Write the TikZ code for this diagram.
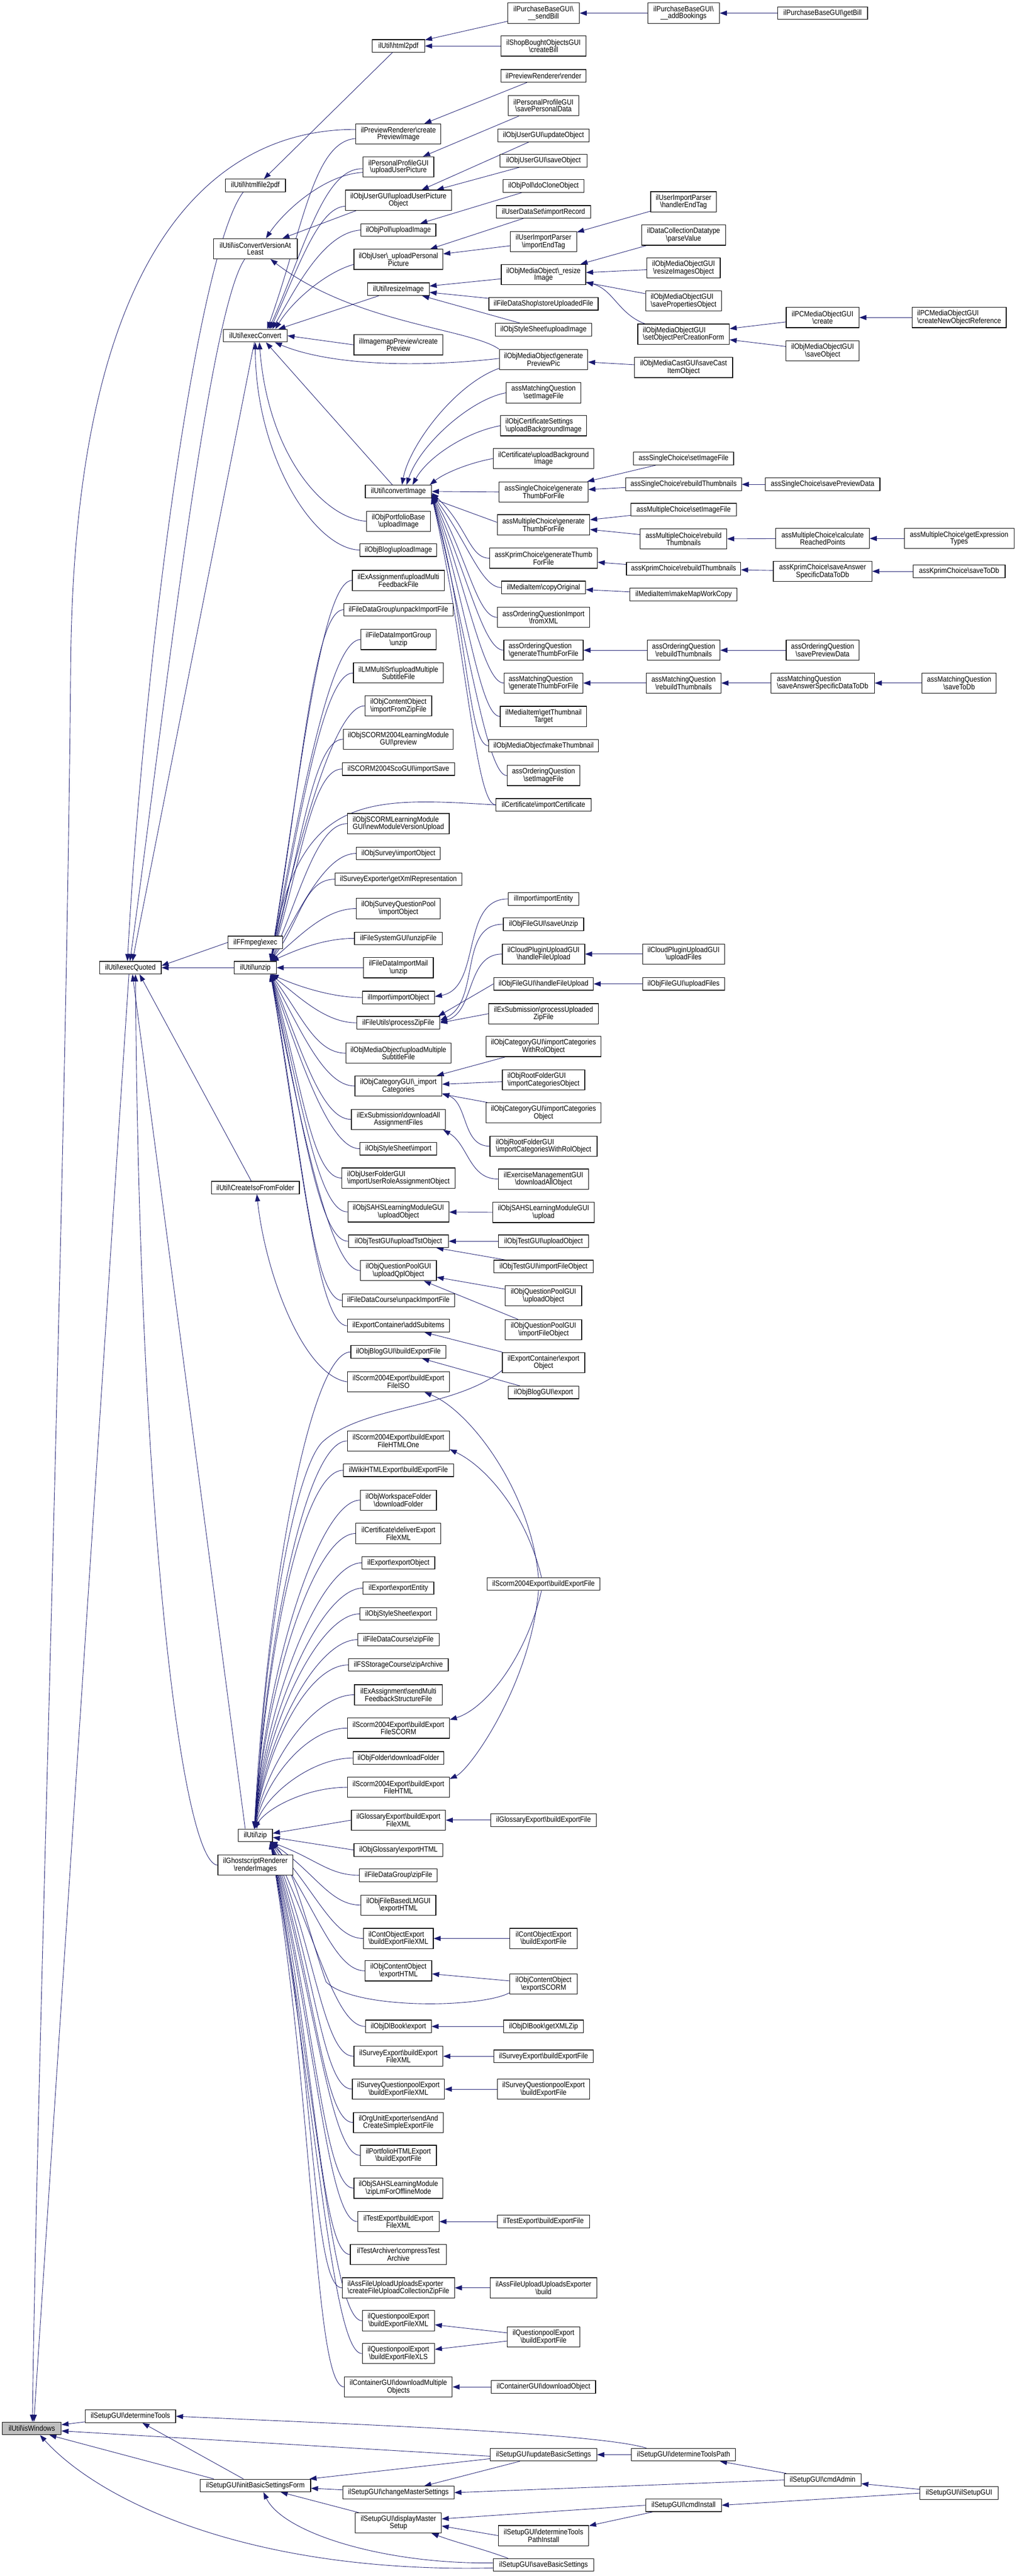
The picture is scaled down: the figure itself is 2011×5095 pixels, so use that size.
\documentclass[tikz,border=0pt]{standalone}
\usepackage{fontspec}
\setmainfont{Liberation Sans}[FakeStretch=0.88]
\usetikzlibrary{arrows.meta,calc,backgrounds}
\definecolor{edgecol}{RGB}{25,25,112}
\definecolor{hlgray}{RGB}{191,191,191}
\newcommand\bsl{\textbackslash}
\newcommand\oneline[5]{\node[bx,minimum width=#4pt] (#1) at (#2,#3) {#5};}
\newcommand\twoline[6]{\node[bx2,minimum width=#4pt] (#1) at (#2,#3) {#5\\#6};}
\newcommand\twoleft[6]{\node[bx2,minimum width=#4pt,align=left] (#1) at (#2,#3) {#5\\#6};}
\newcommand\fanedge[4]{\draw[edg] let \p1=(#1), \p2=(#2) in (\p1) .. controls (\x1-#3pt,\y1) and (\x2+#4pt,{0.5*\y1+0.5*\y2}) .. (\p2);}
\begin{document}
\begin{tikzpicture}[x=1pt,y=-1pt,
  bx/.style={draw=black,line width=1.2pt,fill=white,rectangle,inner sep=0pt,minimum height=25pt,font=\fontsize{15}{13.5}\selectfont,align=center},
  bx2/.style={bx,minimum height=40pt},
  edg/.style={draw=edgecol,line width=0.9pt,-{Triangle[length=14pt,width=10pt]}}]
\useasboundingbox (0,0) rectangle (2011,5095);
% ---------- column A/B/C
\node[bx,fill=hlgray,minimum width=116pt] (isw) at (63,4803) {ilUtil\bsl isWindows};
\oneline{eq}{258}{1914}{122}{ilUtil\bsl execQuoted}
\oneline{dt}{258}{4779}{179}{ilSetupGUI\bsl determineTools}
\oneline{hftp}{505}{367}{119}{ilUtil\bsl htmlfile2pdf}
\twoline{icv}{505}{492}{166}{ilUtil\bsl isConvertVersionAt}{Least}
\oneline{ec}{505}{664}{126}{ilUtil\bsl execConvert}
\oneline{ffm}{505}{1864}{108}{ilFFmpeg\bsl exec}
\oneline{uz}{505}{1914}{83}{ilUtil\bsl unzip}
\oneline{cif}{505}{2349}{174}{ilUtil\bsl CreateIsoFromFolder}
\oneline{zip}{505}{3630}{68}{ilUtil\bsl zip}
\twoline{gs}{505}{3689}{148}{ilGhostscriptRenderer}{\bsl renderImages}
\oneline{ibs}{505}{4916}{219}{ilSetupGUI\bsl initBasicSettingsForm}
% ---------- column D
\oneline{htp}{788}{91}{104}{ilUtil\bsl html2pdf}
\twoline{cpi}{788}{265}{168}{ilPreviewRenderer\bsl create}{PreviewImage}
\twoline{uup}{788}{330}{140}{ilPersonalProfileGUI}{\bsl uploadUserPicture}
\twoline{uupo}{788}{396}{210}{ilObjUserGUI\bsl uploadUserPicture}{Object}
\oneline{pui}{788}{455}{148}{ilObjPoll\bsl uploadImage}
\twoline{upp}{788}{513}{176}{ilObjUser\bsl\_uploadPersonal}{Picture}
\oneline{ri}{788}{572}{122}{ilUtil\bsl resizeImage}
\twoline{imp}{788}{682}{176}{ilImagemapPreview\bsl create}{Preview}
\oneline{ci}{788}{972}{131}{ilUtil\bsl convertImage}
\twoline{pbu}{788}{1031}{126}{ilObjPortfolioBase}{\bsl uploadImage}
\oneline{bui}{788}{1088}{152}{ilObjBlog\bsl uploadImage}
\twoline{eamf}{788}{1148}{182}{ilExAssignment\bsl uploadMulti}{FeedbackFile}
\oneline{fdgu}{788}{1206}{216}{ilFileDataGroup\bsl unpackImportFile}
\twoline{fdigu}{788}{1265}{149}{ilFileDataImportGroup}{\bsl unzip}
\twoline{lmms}{788}{1331}{178}{ilLMMultiSrt\bsl uploadMultiple}{SubtitleFile}
\twoline{cozf}{788}{1396}{132}{ilObjContentObject}{\bsl importFromZipFile}
\twoline{sfp}{788}{1462}{217}{ilObjSCORM2004LearningModule}{GUI\bsl preview}
\oneline{scis}{788}{1521}{222}{ilSCORM2004ScoGUI\bsl importSave}
\twoleft{slmn}{788}{1629}{201}{ilObjSCORMLearningModule}{GUI\bsl newModuleVersionUpload}
\oneline{osio}{788}{1688}{166}{ilObjSurvey\bsl importObject}
\oneline{sexr}{788}{1739}{251}{ilSurveyExporter\bsl getXmlRepresentation}
\twoline{sqpi}{788}{1797}{166}{ilObjSurveyQuestionPool}{\bsl importObject}
\oneline{fsuz}{788}{1856}{174}{ilFileSystemGUI\bsl unzipFile}
\twoline{fdim}{788}{1914}{138}{ilFileDataImportMail}{\bsl unzip}
\oneline{imo}{788}{1973}{143}{ilImport\bsl importObject}
\oneline{pzf}{788}{2023}{164}{ilFileUtils\bsl processZipFile}
\twoline{moms}{788}{2083}{208}{ilObjMediaObject\bsl uploadMultiple}{SubtitleFile}
\twoline{cgic}{788}{2148}{172}{ilObjCategoryGUI\bsl\_import}{Categories}
\twoline{esda}{788}{2214}{186}{ilExSubmission\bsl downloadAll}{AssignmentFiles}
\oneline{ossi}{788}{2272}{152}{ilObjStyleSheet\bsl import}
\twoleft{ufra}{788}{2330}{224}{ilObjUserFolderGUI}{\bsl importUserRoleAssignmentObject}
\twoline{sahu}{788}{2397}{200}{ilObjSAHSLearningModuleGUI}{\bsl uploadObject}
\oneline{tuto}{788}{2455}{198}{ilObjTestGUI\bsl uploadTstObject}
\twoline{qpuq}{788}{2513}{150}{ilObjQuestionPoolGUI}{\bsl uploadQplObject}
\oneline{fdcu}{788}{2572}{222}{ilFileDataCourse\bsl unpackImportFile}
\oneline{ecas}{788}{2622}{202}{ilExportContainer\bsl addSubitems}
\oneline{bgbe}{788}{2674}{188}{ilObjBlogGUI\bsl buildExportFile}
\twoline{siso}{788}{2733}{202}{ilScorm2004Export\bsl buildExport}{FileISO}
\twoline{sh1}{788}{2850}{202}{ilScorm2004Export\bsl buildExport}{FileHTMLOne}
\oneline{wiki}{788}{2908}{218}{ilWikiHTMLExport\bsl buildExportFile}
\twoline{wsdf}{788}{2967}{150}{ilObjWorkspaceFolder}{\bsl downloadFolder}
\twoline{cdef}{788}{3033}{168}{ilCertificate\bsl deliverExport}{FileXML}
\oneline{exo}{788}{3091}{144}{ilExport\bsl exportObject}
\oneline{exe}{788}{3141}{140}{ilExport\bsl exportEntity}
\oneline{osse}{788}{3192}{152}{ilObjStyleSheet\bsl export}
\oneline{fdcz}{788}{3243}{161}{ilFileDataCourse\bsl zipFile}
\oneline{fssa}{788}{3293}{197}{ilFSStorageCourse\bsl zipArchive}
\twoline{easm}{788}{3352}{174}{ilExAssignment\bsl sendMulti}{FeedbackStructureFile}
\twoline{sscorm}{788}{3418}{202}{ilScorm2004Export\bsl buildExport}{FileSCORM}
\oneline{ofdf}{788}{3477}{179}{ilObjFolder\bsl downloadFolder}
\twoline{shtml}{788}{3535}{202}{ilScorm2004Export\bsl buildExport}{FileHTML}
\twoline{gexml}{788}{3600}{186}{ilGlossaryExport\bsl buildExport}{FileXML}
\oneline{ogeh}{788}{3659}{176}{ilObjGlossary\bsl exportHTML}
\oneline{fdgz}{788}{3709}{154}{ilFileDataGroup\bsl zipFile}
\twoline{fblm}{788}{3768}{148}{ilObjFileBasedLMGUI}{\bsl exportHTML}
\twoleft{coex}{788}{3834}{138}{ilContObjectExport}{\bsl buildExportFileXML}
\twoline{coeh}{788}{3898}{132}{ilObjContentObject}{\bsl exportHTML}
\oneline{dlbe}{788}{4008}{130}{ilObjDlBook\bsl export}
\twoline{sebx}{788}{4067}{176}{ilSurveyExport\bsl buildExport}{FileXML}
\twoline{sqpx}{788}{4132}{182}{ilSurveyQuestionpoolExport}{\bsl buildExportFileXML}
\twoline{ouex}{788}{4198}{178}{ilOrgUnitExporter\bsl sendAnd}{CreateSimpleExportFile}
\twoline{phex}{788}{4263}{150}{ilPortfolioHTMLExport}{\bsl buildExportFile}
\twoline{sahz}{788}{4328}{176}{ilObjSAHSLearningModule}{\bsl zipLmForOfflineMode}
\twoline{tebx}{788}{4394}{161}{ilTestExport\bsl buildExport}{FileXML}
\twoline{tacv}{788}{4459}{190}{ilTestArchiver\bsl compressTest}{Archive}
\twoleft{afuc}{788}{4525}{222}{ilAssFileUploadUploadsExporter}{\bsl createFileUploadCollectionZipFile}
\twoline{qpex}{788}{4590}{143}{ilQuestionpoolExport}{\bsl buildExportFileXML}
\twoline{qpes}{788}{4655}{143}{ilQuestionpoolExport}{\bsl buildExportFileXLS}
\twoline{cgdm}{788}{4721}{213}{ilContainerGUI\bsl downloadMultiple}{Objects}
\oneline{cms}{788}{4930}{220}{ilSetupGUI\bsl changeMasterSettings}
\twoline{dms}{788}{4990}{170}{ilSetupGUI\bsl displayMaster}{Setup}
% ---------- column E
\twoline{psb}{1075}{26}{142}{ilPurchaseBaseGUI\bsl}{\_\_sendBill}
\twoline{sbcb}{1075}{91}{168}{ilShopBoughtObjectsGUI}{\bsl createBill}
\oneline{prr}{1075}{150}{168}{ilPreviewRenderer\bsl render}
\twoline{ppsd}{1075}{209}{140}{ilPersonalProfileGUI}{\bsl savePersonalData}
\oneline{ouuo}{1075}{268}{181}{ilObjUserGUI\bsl updateObject}
\oneline{ouso}{1075}{318}{172}{ilObjUserGUI\bsl saveObject}
\oneline{podc}{1075}{368}{160}{ilObjPoll\bsl doCloneObject}
\oneline{udir}{1075}{419}{187}{ilUserDataSet\bsl importRecord}
\twoline{uipe}{1075}{478}{131}{ilUserImportParser}{\bsl importEndTag}
\twoline{omri}{1075}{543}{167}{ilObjMediaObject\bsl\_resize}{Image}
\oneline{fdsu}{1075}{601}{216}{ilFileDataShop\bsl storeUploadedFile}
\oneline{ossu}{1075}{652}{191}{ilObjStyleSheet\bsl uploadImage}
\twoline{gpp}{1075}{711}{175}{ilObjMediaObject\bsl generate}{PreviewPic}
\twoline{mqsi}{1075}{777}{148}{assMatchingQuestion}{\bsl setImageFile}
\twoleft{ocsu}{1075}{842}{170}{ilObjCertificateSettings}{\bsl uploadBackgroundImage}
\twoline{ceub}{1075}{907}{199}{ilCertificate\bsl uploadBackground}{Image}
\twoline{scgt}{1075}{973}{176}{assSingleChoice\bsl generate}{ThumbForFile}
\twoline{mcgt}{1075}{1038}{183}{assMultipleChoice\bsl generate}{ThumbForFile}
\twoline{kcgt}{1075}{1104}{213}{assKprimChoice\bsl generateThumb}{ForFile}
\oneline{mico}{1075}{1162}{166}{ilMediaItem\bsl copyOriginal}
\twoline{oqfx}{1075}{1221}{182}{assOrderingQuestionImport}{\bsl fromXML}
\twoleft{oqgt}{1075}{1286}{157}{assOrderingQuestion}{\bsl generateThumbForFile}
\twoleft{mqgt}{1075}{1351}{156}{assMatchingQuestion}{\bsl generateThumbForFile}
\twoline{migt}{1075}{1417}{171}{ilMediaItem\bsl getThumbnail}{Target}
\oneline{ommt}{1075}{1475}{217}{ilObjMediaObject\bsl makeThumbnail}
\twoline{oqsi}{1075}{1534}{144}{assOrderingQuestion}{\bsl setImageFile}
\oneline{ceic}{1075}{1592}{188}{ilCertificate\bsl importCertificate}
\oneline{iie}{1075}{1778}{140}{ilImport\bsl importEntity}
\oneline{ofsu}{1075}{1828}{159}{ilObjFileGUI\bsl saveUnzip}
\twoline{cphf}{1075}{1887}{163}{ilCloudPluginUploadGUI}{\bsl handleFileUpload}
\oneline{ofhf}{1075}{1946}{197}{ilObjFileGUI\bsl handleFileUpload}
\twoline{espu}{1075}{2005}{217}{ilExSubmission\bsl processUploaded}{ZipFile}
\twoline{ocwr}{1075}{2070}{228}{ilObjCategoryGUI\bsl importCategories}{WithRolObject}
\twoleft{rfco}{1075}{2136}{163}{ilObjRootFolderGUI}{\bsl importCategoriesObject}
\twoline{occo}{1075}{2201}{228}{ilObjCategoryGUI\bsl importCategories}{Object}
\twoleft{rfwr}{1075}{2267}{212}{ilObjRootFolderGUI}{\bsl importCategoriesWithRolObject}
\twoline{emda}{1075}{2332}{179}{ilExerciseManagementGUI}{\bsl downloadAllObject}
\twoline{sahup}{1075}{2398}{201}{ilObjSAHSLearningModuleGUI}{\bsl upload}
\oneline{otuo}{1075}{2455}{179}{ilObjTestGUI\bsl uploadObject}
\oneline{otif}{1075}{2505}{197}{ilObjTestGUI\bsl importFileObject}
\twoline{qpuo}{1075}{2563}{151}{ilObjQuestionPoolGUI}{\bsl uploadObject}
\twoline{qpif}{1075}{2630}{151}{ilObjQuestionPoolGUI}{\bsl importFileObject}
\twoline{eceo}{1075}{2695}{163}{ilExportContainer\bsl export}{Object}
\oneline{bge}{1075}{2754}{139}{ilObjBlogGUI\bsl export}
\oneline{sbef}{1075}{3133}{223}{ilScorm2004Export\bsl buildExportFile}
\oneline{gebf}{1075}{3600}{209}{ilGlossaryExport\bsl buildExportFile}
\twoline{coebf}{1075}{3834}{134}{ilContObjectExport}{\bsl buildExportFile}
\twoline{coes}{1075}{3924}{134}{ilObjContentObject}{\bsl exportSCORM}
\oneline{dlgx}{1075}{4008}{158}{ilObjDlBook\bsl getXMLZip}
\oneline{sebf}{1075}{4067}{197}{ilSurveyExport\bsl buildExportFile}
\twoline{sqpbf}{1075}{4132}{182}{ilSurveyQuestionpoolExport}{\bsl buildExportFile}
\oneline{tebf}{1075}{4394}{182}{ilTestExport\bsl buildExportFile}
\twoline{afub}{1075}{4525}{211}{ilAssFileUploadUploadsExporter}{\bsl build}
\twoline{qpbf}{1075}{4622}{143}{ilQuestionpoolExport}{\bsl buildExportFile}
\oneline{cgdo}{1075}{4721}{206}{ilContainerGUI\bsl downloadObject}
\oneline{ubs}{1075}{4855}{211}{ilSetupGUI\bsl updateBasicSettings}
\twoline{dtpi}{1075}{5015}{179}{ilSetupGUI\bsl determineTools}{PathInstall}
\oneline{sbs}{1075}{5073}{199}{ilSetupGUI\bsl saveBasicSettings}
% ---------- column F
\twoline{pab}{1352}{26}{142}{ilPurchaseBaseGUI\bsl}{\_\_addBookings}
\twoline{uiph}{1352}{399}{130}{ilUserImportParser}{\bsl handlerEndTag}
\twoline{dcpv}{1352}{465}{166}{ilDataCollectionDatatype}{\bsl parseValue}
\twoline{omrio}{1352}{530}{145}{ilObjMediaObjectGUI}{\bsl resizeImagesObject}
\twoleft{omsp}{1352}{595}{150}{ilObjMediaObjectGUI}{\bsl savePropertiesObject}
\twoleft{omsc}{1352}{661}{181}{ilObjMediaObjectGUI}{\bsl setObjectPerCreationForm}
\twoline{mcsc}{1352}{727}{194}{ilObjMediaCastGUI\bsl saveCast}{ItemObject}
\oneline{scsi}{1352}{907}{198}{assSingleChoice\bsl setImageFile}
\oneline{scrt}{1352}{958}{229}{assSingleChoice\bsl rebuildThumbnails}
\oneline{mcsi}{1352}{1008}{209}{assMultipleChoice\bsl setImageFile}
\twoline{mcrt}{1352}{1066}{171}{assMultipleChoice\bsl rebuild}{Thumbnails}
\oneline{kcrt}{1352}{1125}{226}{assKprimChoice\bsl rebuildThumbnails}
\oneline{mimw}{1352}{1176}{212}{ilMediaItem\bsl makeMapWorkCopy}
\twoline{oqrt}{1352}{1286}{144}{assOrderingQuestion}{\bsl rebuildThumbnails}
\twoline{mqrt}{1352}{1351}{148}{assMatchingQuestion}{\bsl rebuildThumbnails}
\twoline{cpuf}{1352}{1887}{162}{ilCloudPluginUploadGUI}{\bsl uploadFiles}
\oneline{ofuf}{1352}{1946}{162}{ilObjFileGUI\bsl uploadFiles}
\oneline{dtp}{1352}{4855}{206}{ilSetupGUI\bsl determineToolsPath}
\oneline{cmi}{1352}{4955}{150}{ilSetupGUI\bsl cmdInstall}
% ---------- column G
\oneline{pgb}{1627}{26}{178}{ilPurchaseBaseGUI\bsl getBill}
\twoline{pcmc}{1627}{628}{144}{ilPCMediaObjectGUI}{\bsl create}
\twoline{omso}{1627}{694}{145}{ilObjMediaObjectGUI}{\bsl saveObject}
\oneline{scsp}{1627}{958}{227}{assSingleChoice\bsl savePreviewData}
\twoline{mccr}{1627}{1065}{185}{assMultipleChoice\bsl calculate}{ReachedPoints}
\twoline{kcsa}{1627}{1130}{195}{assKprimChoice\bsl saveAnswer}{SpecificDataToDb}
\twoline{oqsp}{1627}{1286}{144}{assOrderingQuestion}{\bsl savePreviewData}
\twoleft{mqsa}{1627}{1351}{205}{assMatchingQuestion}{\bsl saveAnswerSpecificDataToDb}
\oneline{cma}{1627}{4905}{152}{ilSetupGUI\bsl cmdAdmin}
% ---------- column H
\twoleft{pcno}{1897}{628}{186}{ilPCMediaObjectGUI}{\bsl createNewObjectReference}
\twoline{mcet}{1897}{1065}{217}{assMultipleChoice\bsl getExpression}{Types}
\oneline{kcsd}{1897}{1130}{182}{assKprimChoice\bsl saveToDb}
\twoline{mqsd}{1897}{1351}{147}{assMatchingQuestion}{\bsl saveToDb}
\oneline{sgui}{1897}{4931}{155}{ilSetupGUI\bsl ilSetupGUI}

\begin{pgfonlayer}{background}
\fill[white] (0,0) rectangle (2011,5095);
% ---- right side chains
\draw[edg] (pgb) -- (pab);
\draw[edg] (pab) -- (psb);
\draw[edg] (psb) -- (htp);
\draw[edg] (sbcb) -- (htp);
\draw[edg] (prr) -- (cpi);
\draw[edg] (ppsd) -- (uup);
\draw[edg] (ouuo) -- (uupo);
\draw[edg] (ouso) -- (uupo);
\draw[edg] (podc) -- (pui);
\draw[edg] (udir) -- (upp);
\draw[edg] (uipe) -- (upp);
\draw[edg] (uiph) -- (uipe);
\draw[edg] (omri) -- (ri);
\draw[edg] (fdsu) -- (ri);
\draw[edg] (ossu) -- (ri);
\draw[edg] (dcpv) -- (omri);
\draw[edg] (omrio) -- (omri);
\draw[edg] (omsp) -- (omri);
\draw[edg] ([xshift=15]omsc.north west) to[out=160,in=-15] ([yshift=-15]omri.east);
\draw[edg] (pcmc) -- (omsc);
\draw[edg] (omso) -- (omsc);
\draw[edg] (pcno) -- (pcmc);
\draw[edg] (mcsc) -- (gpp);
\draw[edg] (scsi) -- (scgt);
\draw[edg] (scrt) -- (scgt);
\draw[edg] (scsp) -- (scrt);
\draw[edg] (mcsi) -- (mcgt);
\draw[edg] (mcrt) -- (mcgt);
\draw[edg] (mccr) -- (mcrt);
\draw[edg] (mcet) -- (mccr);
\draw[edg] (kcrt) -- (kcgt);
\draw[edg] (kcsa) -- (kcrt);
\draw[edg] (kcsd) -- (kcsa);
\draw[edg] (mimw) -- (mico);
\draw[edg] (oqrt) -- (oqgt);
\draw[edg] (oqsp) -- (oqrt);
\draw[edg] (mqrt) -- (mqgt);
\draw[edg] (mqsa) -- (mqrt);
\draw[edg] (mqsd) -- (mqsa);
\draw[edg] (cpuf) -- (cphf);
\draw[edg] (ofuf) -- (ofhf);
% ---- E -> D (middle)
\draw[edg] (iie.west) to[out=180,in=10] ([yshift=2]imo.east);
\draw[edg] (ofsu.west) to[out=180,in=25] ([yshift=5]pzf.east);
\draw[edg] (cphf.west) to[out=180,in=15] ([yshift=2]pzf.east);
\draw[edg] (ofhf.west) -- ([xshift=-4]pzf.north east);
\draw[edg] (espu.west) -- (pzf.east);
\draw[edg] (ocwr) -- (cgic);
\draw[edg] (rfco) -- (cgic);
\draw[edg] (occo) -- (cgic);
\draw[edg] (rfwr.west) to[out=180,in=-20] ([yshift=6]cgic.south east);
\draw[edg] (emda.west) to[out=180,in=-30] ([xshift=-5]esda.south east);
\draw[edg] (sahup) -- (sahu);
\draw[edg] (otuo) -- (tuto);
\draw[edg] (otif) -- (tuto);
\draw[edg] (qpuo) -- (qpuq);
\draw[edg] (qpif) -- (qpuq);
\draw[edg] (eceo) -- (ecas);
\draw[edg] (bge) -- (bgbe);
\draw[edg] ([xshift=-10]sbef.north) .. controls (1050,2950) and (930,2790) .. ([xshift=-50]siso.south east);
\draw[edg] ([xshift=-4]sbef.north) .. controls (1040,2990) and (960,2900) .. ([yshift=4]sh1.south east);
\draw[edg] ([xshift=-4]sbef.south) .. controls (1040,3280) and (960,3380) .. ([yshift=-4]sscorm.north east);
\draw[edg] ([xshift=-10]sbef.south) .. controls (1050,3330) and (930,3500) .. ([yshift=-4]shtml.north east);
\draw[edg] (gebf) -- (gexml);
\draw[edg] (coebf) -- (coex);
\draw[edg] (coes) -- (coeh);
\draw[edg] (dlgx) -- (dlbe);
\draw[edg] (sebf) -- (sebx);
\draw[edg] (sqpbf) -- (sqpx);
\draw[edg] (tebf) -- (tebx);
\draw[edg] (afub) -- (afuc);
\draw[edg] (qpbf) -- (qpex);
\draw[edg] (qpbf) -- (qpes);
\draw[edg] (cgdo) -- (cgdm);
% ---- D -> C (top)
\draw[edg] ([xshift=-12]htp.south) -- ([xshift=17]hftp.north);
\draw[edg] ([yshift=-11]uup.west) .. controls (640,345) and (560,420) .. ([xshift=21]icv.north);
\draw[edg] ([xshift=22]uupo.south west) -- ([xshift=-30]icv.north east);
\draw[edg] (gpp.north west) .. controls (930,650) and (700,640) .. ([xshift=30]icv.south);
\draw[edg] ([yshift=-9]cpi.west) .. controls (620,280) and (600,450) .. ([xshift=-40]ec.north east);
\draw[edg] ([yshift=-4]uup.west) .. controls (640,330) and (600,500) .. ([xshift=-37]ec.north east);
\draw[edg] ([yshift=-12]uupo.west) .. controls (630,410) and (590,530) .. ([xshift=-34]ec.north east);
\draw[edg] (pui.west) .. controls (640,460) and (585,570) .. ([xshift=-30]ec.north east);
\draw[edg] ([yshift=-10]upp.west) .. controls (640,540) and (575,600) .. ([xshift=-24]ec.north east);
\draw[edg] ([xshift=-39]ri.south) -- ([xshift=-18]ec.north east);
\draw[edg] (imp.west) -- (ec.east);
\draw[edg] ([xshift=-12]ci.north) -- ([xshift=21]ec.south);
\draw[edg] (pbu.west) .. controls (640,1025) and (530,900) .. ([xshift=8]ec.south);
\draw[edg] (bui.west) .. controls (620,1085) and (505,900) .. (ec.south);
\draw[edg] ([yshift=2]gpp.west) .. controls (800,730) and (640,718) .. ([xshift=-25]ec.south east);
% ---- E -> convertImage
\draw[edg] ([yshift=3]gpp.south west) .. controls (900,760) and (810,880) .. ([xshift=7]ci.north);
\draw[edg] (mqsi.west) .. controls (930,790) and (830,880) .. ([xshift=16]ci.north);
\draw[edg] (ocsu.west) .. controls (920,855) and (845,905) .. ([xshift=28]ci.north);
\draw[edg] (ceub.west) .. controls (930,915) and (880,935) .. ([xshift=-4]ci.north east);
\draw[edg] (scgt.west) -- (ci.east);
\draw[edg] ([yshift=5]mcgt.west) -- ([xshift=-2]ci.south east);
\fanedge{kcgt.west}{[yshift=-3]ci.east}{40}{70}
\fanedge{mico.west}{[yshift=-5]ci.east}{40}{70}
\fanedge{oqfx.west}{[yshift=-6]ci.east}{40}{70}
\fanedge{oqgt.west}{[yshift=-7]ci.east}{40}{70}
\fanedge{mqgt.west}{[yshift=-8]ci.east}{40}{70}
\fanedge{migt.west}{[yshift=-9]ci.east}{40}{70}
\fanedge{ommt.west}{[yshift=-10]ci.east}{40}{70}
\fanedge{oqsi.west}{[yshift=-10]ci.east}{40}{70}
\fanedge{ceic.west}{[yshift=-11]ci.east}{40}{70}
% ---- unzip fan
\fanedge{eamf.west}{[xshift=-12]uz.north east}{60}{60}
\fanedge{fdgu.west}{[xshift=-12]uz.north east}{60}{60}
\fanedge{fdigu.west}{[xshift=-12]uz.north east}{60}{60}
\fanedge{lmms.west}{[xshift=-12]uz.north east}{60}{60}
\fanedge{cozf.west}{[xshift=-12]uz.north east}{60}{60}
\fanedge{sfp.west}{[xshift=-12]uz.north east}{60}{60}
\fanedge{scis.west}{[xshift=-12]uz.north east}{60}{60}
\fanedge{slmn.west}{[xshift=-12]uz.north east}{60}{60}
\fanedge{osio.west}{[xshift=-12]uz.north east}{60}{60}
\fanedge{sexr.west}{[xshift=-12]uz.north east}{60}{60}
\fanedge{sqpi.west}{[xshift=-12]uz.north east}{60}{60}
\fanedge{fsuz.west}{[xshift=-10]uz.north east}{60}{50}
\draw[edg] (ceic.west) .. controls (720,1576) and (590,1570) .. ([xshift=-12]uz.north east);
\draw[edg] (fdim.west) -- (uz.east);
\fanedge{imo.west}{[xshift=-10]uz.south east}{60}{50}
\fanedge{pzf.west}{[xshift=-12]uz.south east}{60}{60}
\fanedge{moms.west}{[xshift=-12]uz.south east}{60}{60}
\fanedge{cgic.west}{[xshift=-12]uz.south east}{60}{60}
\fanedge{esda.west}{[xshift=-12]uz.south east}{60}{60}
\fanedge{ossi.west}{[xshift=-12]uz.south east}{60}{60}
\fanedge{ufra.west}{[xshift=-12]uz.south east}{60}{60}
\fanedge{sahu.west}{[xshift=-12]uz.south east}{60}{60}
\fanedge{tuto.west}{[xshift=-12]uz.south east}{60}{60}
\fanedge{qpuq.west}{[xshift=-12]uz.south east}{60}{60}
\fanedge{fdcu.west}{[xshift=-12]uz.south east}{60}{60}
\fanedge{ecas.west}{[xshift=-12]uz.south east}{60}{60}
% ---- zip fan
\fanedge{bgbe.west}{[xshift=-2]zip.north}{80}{25}
\fanedge{sh1.west}{[xshift=-2]zip.north}{80}{25}
\fanedge{wiki.west}{[xshift=-2]zip.north}{80}{25}
\fanedge{wsdf.west}{[xshift=-2]zip.north}{80}{25}
\fanedge{cdef.west}{[xshift=-2]zip.north}{80}{25}
\fanedge{exo.west}{[xshift=-2]zip.north}{80}{25}
\fanedge{exe.west}{[xshift=-2]zip.north}{80}{25}
\fanedge{osse.west}{[xshift=-2]zip.north}{80}{25}
\fanedge{fdcz.west}{[xshift=-2]zip.north}{80}{25}
\fanedge{fssa.west}{[xshift=-2]zip.north}{80}{25}
\fanedge{easm.west}{[xshift=-2]zip.north}{80}{25}
\fanedge{sscorm.west}{[xshift=-2]zip.north}{80}{25}
\fanedge{ofdf.west}{[xshift=-2]zip.north}{80}{25}
\fanedge{shtml.west}{[xshift=-2]zip.north}{80}{25}
\draw[edg] ([yshift=5]eceo.south west) .. controls (900,2785) and (720,2780) .. (640,2850) .. controls (580,2900) and (515,3300) .. ([xshift=3]zip.north);
\draw[edg] (gexml.west) -- ([yshift=4]zip.east);
\draw[edg] (ogeh.west) -- ([yshift=-4]zip.east);
\fanedge{fdgz.west}{[xshift=-5]zip.south east}{60}{90}
\fanedge{fblm.west}{[xshift=-5]zip.south east}{60}{90}
\fanedge{coex.west}{[xshift=-5]zip.south east}{60}{90}
\fanedge{coeh.west}{[xshift=-5]zip.south east}{60}{90}
\fanedge{dlbe.west}{[xshift=-5]zip.south east}{60}{90}
\fanedge{sebx.west}{[xshift=-5]zip.south east}{60}{90}
\fanedge{sqpx.west}{[xshift=-5]zip.south east}{60}{90}
\fanedge{ouex.west}{[xshift=-5]zip.south east}{60}{90}
\fanedge{phex.west}{[xshift=-5]zip.south east}{60}{90}
\fanedge{sahz.west}{[xshift=-5]zip.south east}{60}{90}
\fanedge{tebx.west}{[xshift=-5]zip.south east}{60}{90}
\fanedge{tacv.west}{[xshift=-5]zip.south east}{60}{90}
\fanedge{afuc.west}{[xshift=-5]zip.south east}{60}{90}
\fanedge{qpex.west}{[xshift=-5]zip.south east}{60}{90}
\fanedge{qpes.west}{[xshift=-5]zip.south east}{60}{90}
\fanedge{cgdm.west}{[xshift=-5]zip.south east}{60}{90}
\draw[edg] ([yshift=3]coes.south west) .. controls (950,3972) and (700,3975) .. (645,3920) .. controls (610,3820) and (580,3690) .. ([xshift=-2]zip.south east);
\draw[edg] (siso.west) .. controls (600,2720) and (525,2520) .. ([xshift=3]cif.south);
% ---- C -> B
\draw[edg] ([xshift=-24]hftp.south) .. controls (390,500) and (285,1300) .. ([xshift=-6]eq.north);
\draw[edg] ([xshift=-21]icv.south) .. controls (410,620) and (320,1450) .. ([xshift=-1]eq.north);
\draw[edg] ([xshift=-2]ec.south) -- ([xshift=4]eq.north);
\draw[edg] (ffm.west) -- ([yshift=4]eq.east);
\draw[edg] (uz.west) -- (eq.east);
\draw[edg] ([xshift=-8]cif.north) -- ([xshift=18]eq.south);
\draw[edg] ([xshift=-20]zip.north) -- ([xshift=4]eq.south);
\draw[edg] (gs.west) .. controls (360,3685) and (275,3000) .. ([xshift=10]eq.south);
% ---- to isWindows
\draw[edg] ([yshift=9]cpi.west) .. controls (450,255) and (150,450) .. (140,1300) .. controls (130,2400) and (75,4000) .. ([xshift=1]isw.north);
\draw[edg] ([xshift=-3]eq.south) -- ([xshift=4]isw.north);
\draw[edg] (dt) -- (isw);
\draw[edg] ([xshift=28]ibs.north west) to[out=165,in=-15] ([xshift=-24]isw.south east);
\draw[edg] ([yshift=-3]ubs.west) -- ([yshift=-5]isw.east);
\draw[edg] ([yshift=-6]sbs.west) .. controls (500,5090) and (200,4950) .. ([xshift=16]isw.south);
% ---- setup
\draw[edg] (ibs) -- (dt);
\draw[edg] ([xshift=30]dtp.north west) .. controls (1180,4812) and (700,4795) .. (dt.east);
\draw[edg] ([yshift=-8]ubs.west) -- ([xshift=-3]ibs.north east);
\draw[edg] ([xshift=-47]ubs.south) -- ([xshift=51]cms.north);
\draw[edg] (cms) -- (ibs);
\draw[edg] (dms) -- (ibs);
\draw[edg] ([yshift=4]sbs.west) .. controls (760,5072) and (560,5010) .. ([xshift=16]ibs.south);
\draw[edg] (cma.west) -- (cms.east);
\draw[edg] (cmi.west) -- ([yshift=8]dms.east);
\draw[edg] (dtpi.west) -- ([yshift=-6]dms.east);
\draw[edg] ([xshift=-70]sbs.north) to[out=160,in=-20] ([xshift=-20]dms.south east);
\draw[edg] (dtp) -- (ubs);
\draw[edg] (cma) -- (dtp);
\draw[edg] (sgui) -- (cma);
\draw[edg] (sgui.west) -- (cmi.east);
\draw[edg] (cmi) -- (dtpi);
\end{pgfonlayer}
\end{tikzpicture}
\end{document}
